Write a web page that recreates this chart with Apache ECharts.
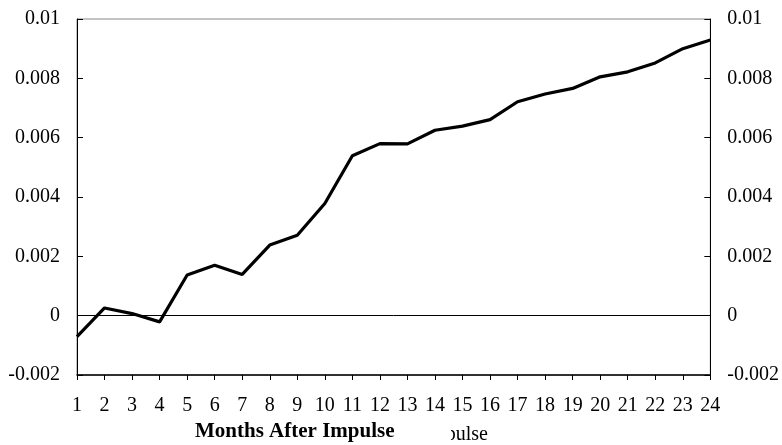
<!DOCTYPE html>
<html>
<head>
<meta charset="utf-8">
<script src="https://cdn.jsdelivr.net/npm/echarts@6/dist/echarts.min.js"></script>
<style>
html, body {margin: 0; padding: 0; background: #fff;}
#main {width: 782px; height: 445px;}
</style>
</head>
<body>
<div id="main"></div>
<script>
// months after impulse
var months = ["1", "2", "3", "4", "5", "6", "7", "8", "9", "10", "11", "12",
    "13", "14", "15", "16", "17", "18", "19", "20", "21", "22", "23", "24"];
// response values
var response = [-0.00071, 0.00026, 0.00007, -0.00021, 0.00137, 0.0017, 0.00139, 0.00238,
    0.00271, 0.00378, 0.00539, 0.0058, 0.00579, 0.00625, 0.00639, 0.00661,
    0.00721, 0.00747, 0.00766, 0.00805, 0.00822, 0.00852, 0.009, 0.00929];
var yMin = -0.002, yMax = 0.01, yStep = 0.002;

var font = "Liberation Serif";

function fmt(v) {
    return String(parseFloat(v.toFixed(3)));
}

function yAxisOf(pos) {
    return {
        type: 'value',
        position: pos,
        min: yMin,
        max: yMax,
        interval: yStep,
        axisLine: {show: true, lineStyle: {color: '#000', width: 1}},
        axisTick: {show: true, inside: true, length: 6, lineStyle: {color: '#000'}},
        axisLabel: {margin: 17, color: '#000', fontFamily: font, fontSize: 20, formatter: fmt},
        splitLine: {show: false}
    };
}

var chart = echarts.init(document.getElementById('main'));
chart.setOption({
    animation: false,
    backgroundColor: '#fff',
    title: {
        text: 'Months After Impulse',
        left: 195,
        top: 421,
        padding: 0,
        textStyle: {fontFamily: font, fontSize: 21, fontWeight: 'bold', color: '#000'}
    },
    grid: {
        left: 77,
        right: 68,
        top: 19,
        bottom: 70,
        show: true,
        borderColor: '#888',
        borderWidth: 1
    },
    xAxis: {
        type: 'category',
        data: months,
        boundaryGap: false,
        axisLine: {show: true, onZero: false, lineStyle: {color: '#000', width: 1.5}},
        axisTick: {show: true, length: 5, interval: 0, alignWithLabel: true, lineStyle: {color: '#000'}},
        axisLabel: {margin: 21, interval: 0, color: '#000', fontFamily: font, fontSize: 20},
        splitLine: {show: false}
    },
    yAxis: [yAxisOf('left'), yAxisOf('right')],
    series: [{
        type: 'line',
        data: response,
        symbol: 'none',
        lineStyle: {color: '#000', width: 3.2},
        markLine: {
            silent: true,
            symbol: 'none',
            label: {show: false},
            lineStyle: {color: '#000', width: 1, type: 'solid'},
            data: [{yAxis: 0}]
        }
    }],
    // leftover piece of an older axis title, mostly covered
    graphic: [
        {
            type: 'text',
            z: 10,
            style: {text: 'Impulse', x: 488, y: 425, align: 'right', verticalAlign: 'top',
                fill: '#000', font: '20px "Liberation Serif"'}
        },
        {
            type: 'rect',
            z: 11,
            shape: {x: 415, y: 416, width: 36, height: 29},
            style: {fill: '#fff'}
        }
    ]
});
</script>
</body>
</html>
